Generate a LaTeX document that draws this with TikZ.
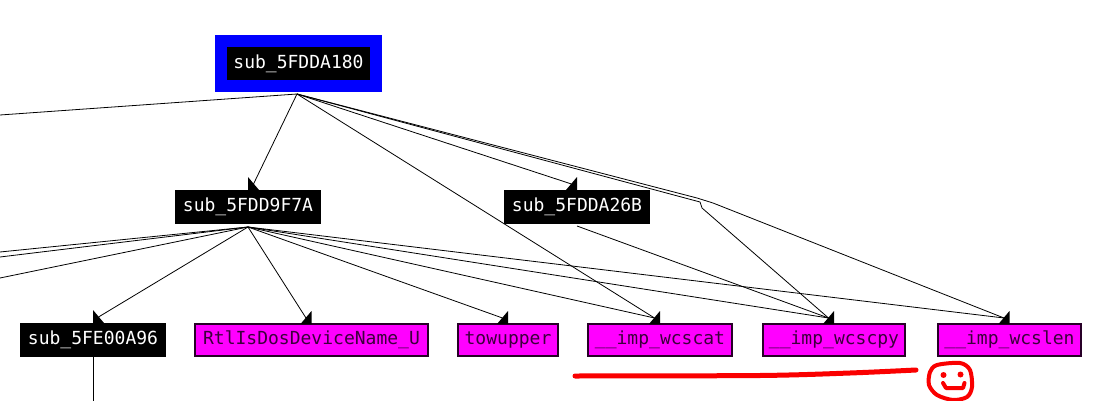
\documentclass[tikz,border=0pt]{standalone}
\usepackage{fontspec}
\newfontfamily\idamono{DejaVu Sans Mono}
\usetikzlibrary{calc}
\definecolor{idablue}{RGB}{0,0,255}
\definecolor{idapink}{RGB}{255,0,255}
\definecolor{idaedge}{RGB}{40,0,40}
\definecolor{idatext}{RGB}{60,0,60}
\definecolor{penred}{RGB}{250,0,0}
\tikzset{
  fnbox/.style={font=\idamono\fontsize{18}{22}\selectfont, inner sep=0pt, outer sep=0pt},
  subbox/.style={fnbox, fill=black, text=white, minimum height=34pt},
  impbox/.style={fnbox, fill=idapink, draw=idaedge, line width=2pt, text=idatext, minimum height=32pt},
  rootbox/.style={fnbox, fill=black, text=white, draw=idablue, line width=12pt, minimum width=155pt, minimum height=45pt},
  link/.style={draw=black, line width=0.8pt},
  headR/.pic={\fill[black] (0,0) -- (0,-13) -- (-11,0) -- cycle;},
  headL/.pic={\fill[black] (0,0) -- (0,-13) -- (11,0) -- cycle;},
  pen/.style={draw=penred, line width=5pt, line cap=round, line join=round},
}
\begin{document}
\begin{tikzpicture}[x=1pt,y=-1pt]
\useasboundingbox (0,0) rectangle (1100,401);
\fill[white] (0,0) rectangle (1100,401);

% nodes
\node[rootbox] (A) at (298.5,63.5) {sub\_5FDDA180};
\node[subbox, minimum width=146pt] (B) at (248,207) {sub\_5FDD9F7A};
\node[subbox, minimum width=146pt] (C) at (577,207) {sub\_5FDDA26B};
\node[subbox, minimum width=146pt] (D) at (93,340) {sub\_5FE00A96};
\node[impbox, minimum width=233pt] (E) at (311.5,340) {RtlIsDosDeviceName\_U};
\node[impbox, minimum width=100pt] (F) at (508,340) {towupper};
\node[impbox, minimum width=144pt] (G) at (660,340) {\_\_imp\_wcscat};
\node[impbox, minimum width=142pt] (H) at (834,340) {\_\_imp\_wcscpy};
\node[impbox, minimum width=143pt] (I) at (1009.5,340) {\_\_imp\_wcslen};

% edge origins
\coordinate (Ao) at ($(A.south)+(-1.5,8)$);
\coordinate (Bo) at ($(B.south)+(0,3)$);
\coordinate (Co) at ($(C.south)+(0,2)$);
\coordinate (Do) at (D.south);
% edge ends
\coordinate (Bi) at ($(B.north)+(5.5,-6)$);
\coordinate (Ci) at ($(C.north)+(-5.5,-6)$);
\coordinate (Di) at ($(D.north)+(5.5,-6)$);
\coordinate (Ei) at ($(E.north)+(-5.5,-6)$);
\coordinate (Fi) at ($(F.north)+(-5.5,-6)$);
\coordinate (Gi) at ($(G.north)+(-5.5,-6)$);
\coordinate (Hi) at ($(H.north)+(-5.5,-6)$);
\coordinate (Ii) at ($(I.north)+(-5.5,-6)$);
% free ends and bends
\coordinate (offA) at (0,115);
\coordinate (offB1) at (0,252);
\coordinate (offB2) at (0,257);
\coordinate (offB3) at (0,278);
\coordinate (offD) at (93,401);
\coordinate (bh1) at (700,202);
\coordinate (bh2) at (702,208);
\coordinate (bi1) at (697,198);
\coordinate (bi2) at (713,203);

% edges from A
\draw[link] (Ao) -- (offA);
\draw[link] (Ao) -- (Bi);
\draw[link] (Ao) -- (Ci);
\draw[link] (Ao) -- (Gi);
\draw[link] (Ao) -- (bh1) -- (bh2) -- (Hi);
\draw[link] (Ao) -- (bi1) -- (bi2) -- (Ii);
% edges from B
\draw[link] (Bo) -- (offB1);
\draw[link] (Bo) -- (offB2);
\draw[link] (Bo) -- (offB3);
\draw[link] (Bo) -- (Di);
\draw[link] (Bo) -- (Ei);
\draw[link] (Bo) -- (Fi);
\draw[link] (Bo) -- (Gi);
\draw[link] (Bo) -- (Hi);
\draw[link] (Bo) -- (Ii);
% edges from C and D
\draw[link] (Co) -- (Hi);
\draw[link] (Do) -- (offD);

% arrowheads
\pic at (B.north) {headL};
\pic at (C.north) {headR};
\pic at (D.north) {headL};
\pic at (E.north) {headR};
\pic at (F.north) {headR};
\pic at (G.north) {headR};
\pic at (H.north) {headR};
\pic at (I.north) {headR};

% red hand-drawn marks
\draw[pen] plot[smooth] coordinates {(575,376) (760,375.5) (850,373) (916,370)};
\draw[pen, line width=4pt] plot[smooth cycle] coordinates {(937,365) (960,363) (970,370) (972,387) (967,397) (953,400) (937,395) (929,385) (930,372)};
\fill[penred] (943.5,375) circle (3);
\fill[penred] (960.5,374.5) circle (3);
\draw[pen, line width=4pt] (943,383) -- (946,388) -- (963,388) -- (964.5,383);
\end{tikzpicture}
\end{document}
